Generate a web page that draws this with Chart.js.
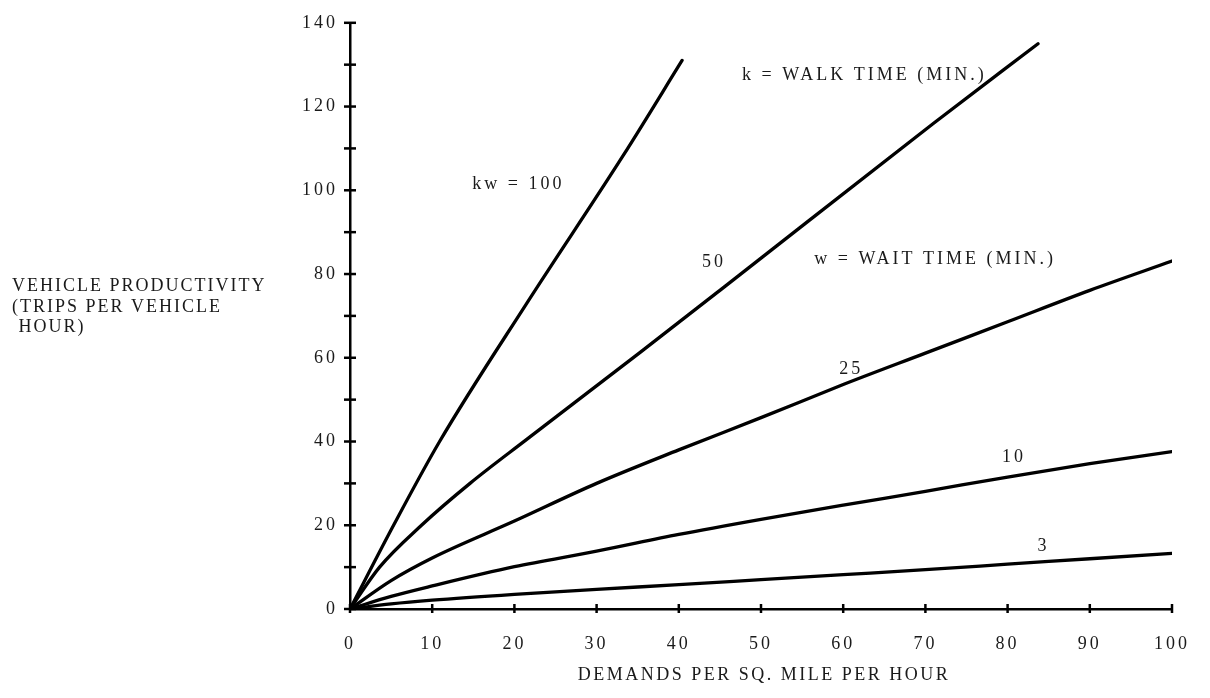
<!DOCTYPE html>
<html><head><meta charset="utf-8">
<script src="https://cdn.jsdelivr.net/npm/chart.js@4.4.1/dist/chart.umd.min.js"></script>
<style>html,body{margin:0;padding:0;background:#fff}#wrap{width:1210px;height:698px;position:relative}</style>
</head><body><div id="wrap"><canvas id="c" width="1210" height="698"></canvas></div>
<script>
// ---- data ----
const kw100X = [0, 5.3, 10.9, 21.5, 33.3, 40.4];
const kw100Y = [0, 20, 40, 73, 108.5, 131];
const kw50X  = [0, 3.6, 8.7, 14.6, 21.5, 35.3, 45, 71, 83.7];
const kw50Y  = [0, 10, 20, 30, 40.5, 61.3, 76.1, 116, 135];
const lowX   = [0, 5, 10, 20, 30, 40, 50, 60, 70, 80, 90, 100];
const kw25Y  = [0, 6.8, 12.2, 21, 30, 38, 45.7, 53.6, 61.1, 68.6, 76.1, 83.1];
const kw10Y  = [0, 3, 5.5, 10.1, 13.8, 17.8, 21.4, 24.8, 28.1, 31.5, 34.7, 37.6];
const kw3Y   = [0, 1.2, 2.1, 3.5, 4.7, 5.8, 7.0, 8.2, 9.4, 10.7, 12.0, 13.3];
const xTickValues = [0, 10, 20, 30, 40, 50, 60, 70, 80, 90, 100];
const yTickLabels = [0, 20, 40, 60, 80, 100, 120, 140];
const curveLabels = ["kw = 100", "50", "25", "10", "3"];
const yTitleLines = ["VEHICLE PRODUCTIVITY", "(TRIPS PER VEHICLE", " HOUR)"];
const xTitle = "DEMANDS PER SQ. MILE PER HOUR";
const noteWalk = "k = WALK TIME (MIN.)";
const noteWait = "w = WAIT TIME (MIN.)";

function pts(xs, ys) { return xs.map((x, i) => ({ x: x, y: ys[i] })); }

// annotation anchors in data units
const annotations = [
  { text: curveLabels[0], x: 20.3, y: 101.5, ls: 3 },
  { text: noteWalk, x: 62.4, y: 127.5, ls: 3 },
  { text: curveLabels[1], x: 44.1, y: 82.8, ls: 3 },
  { text: noteWait, x: 71.0, y: 83.6, ls: 3 },
  { text: curveLabels[2], x: 60.8, y: 57.3, ls: 3 },
  { text: curveLabels[3], x: 80.6, y: 36.2, ls: 3 },
  { text: curveLabels[4], x: 84.2, y: 14.9, ls: 3 }
];

const FONT = '"Liberation Serif", "DejaVu Serif", serif';
const INK = '#1a1a1a';

const decor = {
  id: 'decor',
  beforeDraw(chart) { chart.ctx.letterSpacing = '3px'; },
  afterDraw(chart) {
    const ctx = chart.ctx;
    const xs = chart.scales.x, ys = chart.scales.y;
    const x0 = xs.getPixelForValue(0), y0 = ys.getPixelForValue(0);
    ctx.save();
    ctx.strokeStyle = '#000';
    ctx.lineWidth = 2.5;
    // tick marks crossing the axes
    xs.ticks.forEach(t => {
      const px = xs.getPixelForValue(t.value);
      ctx.beginPath(); ctx.moveTo(px, y0 - 5); ctx.lineTo(px, y0 + 4); ctx.stroke();
    });
    ys.ticks.forEach(t => {
      const py = ys.getPixelForValue(t.value);
      ctx.beginPath(); ctx.moveTo(x0 - 6, py); ctx.lineTo(x0 + 6, py); ctx.stroke();
    });
    ctx.fillStyle = INK;
    ctx.textBaseline = 'middle';
    // annotations
    annotations.forEach(a => {
      ctx.font = '18px ' + FONT;
      ctx.letterSpacing = a.ls + 'px';
      ctx.textAlign = 'center';
      ctx.fillText(a.text, xs.getPixelForValue(a.x) + a.ls / 2, ys.getPixelForValue(a.y));
    });
    // y title (horizontal, left of axis)
    ctx.font = '18px ' + FONT;
    ctx.letterSpacing = '2px';
    ctx.textAlign = 'left';
    const yt = ys.getPixelForValue(77);
    yTitleLines.forEach((l, i) => ctx.fillText(l, 12, yt + i * 20.5));
    // x title
    ctx.letterSpacing = '2.5px';
    ctx.textAlign = 'center';
    ctx.fillText(xTitle, (chart.chartArea.left + chart.chartArea.right) / 2 + 3, y0 + 66);
    ctx.restore();
  }
};

const lineStyle = { borderColor: '#000', borderWidth: 3.3, pointRadius: 0, fill: false,
                    cubicInterpolationMode: 'monotone', borderCapStyle: 'round', borderJoinStyle: 'round' };

new Chart(document.getElementById('c'), {
  type: 'line',
  data: {
    datasets: [
      Object.assign({ label: 'kw=100', data: pts(kw100X, kw100Y) }, lineStyle),
      Object.assign({ label: 'kw=50', data: pts(kw50X, kw50Y) }, lineStyle),
      Object.assign({ label: 'kw=25', data: pts(lowX, kw25Y) }, lineStyle),
      Object.assign({ label: 'kw=10', data: pts(lowX, kw10Y) }, lineStyle),
      Object.assign({ label: 'kw=3', data: pts(lowX, kw3Y) }, lineStyle)
    ]
  },
  options: {
    responsive: false,
    animation: false,
    events: [],
    layout: { padding: { left: 0, right: 38, top: 17, bottom: 0 } },
    plugins: { legend: { display: false }, tooltip: { enabled: false } },
    scales: {
      x: {
        type: 'linear', min: 0, max: 100,
        afterBuildTicks(s) { s.ticks = xTickValues.map(v => ({ value: v })); },
        afterFit(s) { s.height = 89; },
        grid: { drawOnChartArea: false, drawTicks: false },
        border: { display: true, color: '#000', width: 2.5 },
        ticks: { padding: 24, color: INK, font: { family: FONT, size: 18 }, maxRotation: 0,
                 callback: v => String(v) }
      },
      y: {
        type: 'linear', min: 0, max: 140,
        ticks: { stepSize: 10, padding: 12, color: INK, font: { family: FONT, size: 18 },
                 callback: v => (yTickLabels.includes(v) ? String(v) : '') },
        afterFit(s) { s.width = 350; },
        grid: { drawOnChartArea: false, drawTicks: false },
        border: { display: true, color: '#000', width: 2.5 }
      }
    }
  },
  plugins: [decor]
});
</script>
</body></html>
